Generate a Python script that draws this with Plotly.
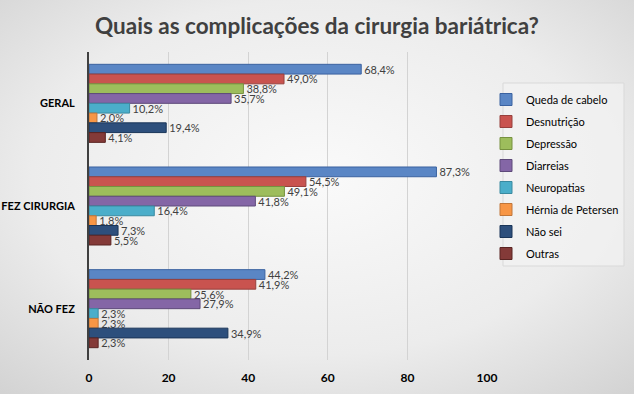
import plotly.graph_objects as go

categories = ["GERAL", "FEZ CIRURGIA", "NÃO FEZ"]
series_names = ["Queda de cabelo", "Desnutrição", "Depressão", "Diarreias",
                "Neuropatias", "Hérnia de Petersen", "Não sei", "Outras"]
values = {
    "Queda de cabelo": [68.4, 87.3, 44.2],
    "Desnutrição": [49.0, 54.5, 41.9],
    "Depressão": [38.8, 49.1, 25.6],
    "Diarreias": [35.7, 41.8, 27.9],
    "Neuropatias": [10.2, 16.4, 2.3],
    "Hérnia de Petersen": [2.0, 1.8, 2.3],
    "Não sei": [19.4, 7.3, 34.9],
    "Outras": [4.1, 5.5, 2.3],
}
colors = ["#5A86C5", "#C9534F", "#9DBD5C", "#8466A6", "#4BAECA", "#F79646", "#2D4F7C", "#843A38"]
borders = ["#3B62A0", "#97403D", "#76913F", "#5E4A7A", "#3A8AA0", "#C0763A", "#1A3558", "#5A2422"]
x_ticks = [0, 20, 40, 60, 80, 100]

W, H = 634, 394
ml, mr, mt, mb = 89, 147, 52, 34
pw, ph = W - ml - mr, H - mt - mb

def px_x(p):
    return (p - ml) / pw

def px_y(p):
    return (H - mb - p) / ph

fig = go.Figure()
for i, name in enumerate(series_names):
    vals = values[name]
    fig.add_trace(go.Bar(
        y=categories, x=vals, orientation="h", name=name,
        marker=dict(color=colors[i], line=dict(color=borders[i], width=1)),
        text=[f"{v:.1f}%".replace(".", ",") for v in vals],
        textposition="outside", constraintext="none", cliponaxis=False,
        textfont=dict(family="Lato", size=11, color="#404040"),
        legendgroup=name, hoverinfo="skip",
    ))

svg = ("data:image/svg+xml;utf8,<svg xmlns='http://www.w3.org/2000/svg' width='634' height='394'>"
       "<defs><radialGradient id='g' cx='50%' cy='45%' r='75%'>"
       "<stop offset='0%' stop-color='%23fafafa'/><stop offset='60%' stop-color='%23ececec'/>"
       "<stop offset='100%' stop-color='%23d2d2d2'/></radialGradient></defs>"
       "<rect width='634' height='394' fill='url(%23g)'/></svg>")

fig.update_layout(
    width=W, height=H,
    margin=dict(l=ml, r=mr, t=mt, b=mb, autoexpand=False),
    paper_bgcolor="#e9e9e9", plot_bgcolor="rgba(0,0,0,0)",
    barmode="group", bargap=0.24, bargroupgap=0,
    title=dict(text="Quais as complicações da cirurgia bariátrica?",
               x=0.5, xanchor="center", y=1 - 26 / H, yanchor="middle",
               font=dict(family="Lato", size=22.5, color="#404040", weight="bold")),
    xaxis=dict(range=[0, 100], tickvals=x_ticks, showgrid=True, gridcolor="#d3d3d3",
               gridwidth=1, zeroline=False, showline=False, automargin=False,
               tickfont=dict(family="Lato", size=12, color="#000000", weight="bold"),
               ticks="", ticklabelstandoff=9, fixedrange=True),
    yaxis=dict(autorange="reversed", showline=True, linecolor="#404040", linewidth=2,
               automargin=False,
               tickfont=dict(family="Lato", size=11, color="#000000", weight="bold"),
               ticks="", ticklabelstandoff=10, showgrid=False),
    legend=dict(x=px_x(486), y=px_y(85), xanchor="left", yanchor="top",
                traceorder="grouped", tracegroupgap=3, itemwidth=30,
                bgcolor="rgba(0,0,0,0)", borderwidth=0,
                font=dict(family="Lato", size=11, color="#000000")),
    shapes=[dict(type="rect", xref="paper", yref="paper",
                 x0=px_x(503), x1=px_x(624), y0=px_y(83), y1=px_y(266),
                 fillcolor="rgba(242,242,242,0.7)", line=dict(color="#d9d9d9", width=1),
                 layer="below")],
    images=[dict(source=svg, xref="paper", yref="paper",
                 x=-ml / pw, y=1 + mt / ph, sizex=W / pw, sizey=H / ph,
                 xanchor="left", yanchor="top", sizing="stretch", layer="below")],
    showlegend=True,
)

fig.write_html("out.html", config={"displayModeBar": False},
               post_script="document.body.style.margin='0';")
